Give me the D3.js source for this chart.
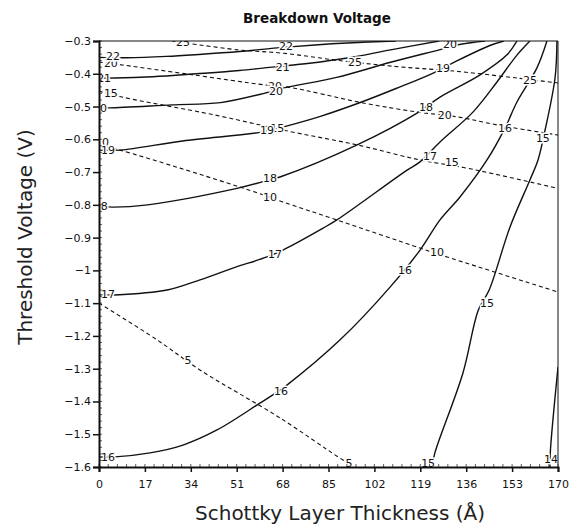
<!DOCTYPE html>
<html>
<head>
<meta charset="utf-8">
<script src="https://cdn.jsdelivr.net/npm/d3@7"></script>
<style>
body { margin: 0; background: #fff; }
</style>
</head>
<body>
<div id="vis-svg"></div>
<script>
var w = 577;
var h = 529;

// axis ticks
var xTicks = [0, 17, 34, 51, 68, 85, 102, 119, 136, 153, 170];
var yTicks = [-1.6, -1.5, -1.4, -1.3, -1.2, -1.1, -1, -0.9, -0.8, -0.7, -0.6, -0.5, -0.4, -0.3];

// breakdown voltage contours (solid), [thickness, threshold]
var bvLevels = [22, 21, 20, 19, 18, 17, 16, 15, 14];
var bvLines = [
  [[0,-0.350],[10,-0.351],[25,-0.347],[37,-0.341],[52,-0.332],[66,-0.321],[80,-0.312],[92,-0.306],[110,-0.300]],
  [[0,-0.413],[6,-0.413],[20,-0.409],[36,-0.400],[52,-0.390],[65,-0.379],[78,-0.368],[92,-0.352],[108,-0.327],[126,-0.300]],
  [[0,-0.504],[4,-0.504],[27,-0.495],[45,-0.488],[61.5,-0.459],[68,-0.444],[88,-0.411],[108,-0.365],[126,-0.327],[134,-0.310],[143,-0.300]],
  [[0,-0.633],[7.8,-0.633],[31,-0.605],[60.4,-0.578],[67,-0.565],[82,-0.530],[97,-0.487],[110,-0.445],[124,-0.397],[132,-0.363],[145,-0.313],[150,-0.300]],
  [[0,-0.804],[5.2,-0.807],[18,-0.800],[51.5,-0.749],[60.4,-0.730],[67,-0.715],[95.6,-0.617],[117.8,-0.520],[126.3,-0.471],[141,-0.404],[151,-0.343],[154.8,-0.300]],
  [[0,-1.075],[5.9,-1.075],[25.2,-1.060],[37.4,-1.029],[49.6,-0.993],[62.2,-0.959],[68.1,-0.938],[83,-0.871],[88.1,-0.846],[114.1,-0.694],[118.9,-0.669],[126.3,-0.608],[138.5,-0.517],[147.4,-0.425],[154.8,-0.343],[159.6,-0.300]],
  [[0,-1.569],[5.9,-1.569],[18.9,-1.557],[31.1,-1.533],[43.7,-1.487],[59.6,-1.405],[64.4,-1.380],[69.6,-1.350],[89.3,-1.212],[107.8,-1.051],[118.9,-0.938],[126.3,-0.846],[133.7,-0.776],[143.7,-0.663],[150.4,-0.565],[154.8,-0.486],[162.2,-0.382],[165.9,-0.300]],
  [[123.3,-1.600],[124.4,-1.557],[134.8,-1.313],[140.5,-1.121],[144.5,-1.060],[152.2,-0.868],[159.6,-0.724],[162.6,-0.663],[165,-0.580],[168.9,-0.413],[169.6,-0.300]],
  [[167,-1.600],[167.2,-1.548],[170,-1.295]]
];
var bvLabels = [
  [[5.2,-0.347],[69.3,-0.315]],
  [[1.9,-0.413],[68.1,-0.378]],
  [[0.4,-0.504],[65.6,-0.453],[130,-0.309]],
  [[3.3,-0.633],[62.2,-0.571],[127.4,-0.382]],
  [[0.7,-0.804],[63.3,-0.718],[121.1,-0.501]],
  [[3.3,-1.072],[65.2,-0.950],[122.6,-0.651]],
  [[3.3,-1.569],[67.4,-1.368],[113.3,-0.999],[150.4,-0.565]],
  [[121.9,-1.588],[143.7,-1.100],[164.4,-0.596]],
  [[167.4,-1.576]]
];

// second set of contours (dashed)
var dashLevels = [25, 20, 15, 10, 5];
var dashLines = [
  [[27,-0.300],[51.5,-0.327],[67.8,-0.337],[90.4,-0.361],[111.5,-0.379],[131.9,-0.392],[154.8,-0.413],[170,-0.428]],
  [[0,-0.364],[8.5,-0.373],[33.7,-0.402],[61.5,-0.434],[69.6,-0.440],[97.8,-0.489],[118.1,-0.517],[133,-0.532],[147.4,-0.556],[170,-0.587]],
  [[0,-0.453],[8.5,-0.471],[43,-0.526],[70,-0.575],[95.6,-0.617],[118.9,-0.663],[136.3,-0.688],[169.6,-0.749]],
  [[0,-0.617],[7.8,-0.633],[30,-0.688],[58.9,-0.764],[68.1,-0.791],[88.1,-0.846],[118.9,-0.932],[128.9,-0.959],[170,-1.066]],
  [[0,-1.100],[21.5,-1.212],[37.4,-1.304],[67,-1.450],[88.5,-1.569],[92.6,-1.590]]
];
var dashLabels = [
  [[31.1,-0.302],[94.8,-0.364],[159.6,-0.419]],
  [[4.4,-0.367],[65.2,-0.437],[128.1,-0.526]],
  [[4.4,-0.459],[66,-0.565],[130.7,-0.670]],
  [[1.1,-0.608],[63.3,-0.776],[125.2,-0.944]],
  [[33,-1.273],[92.6,-1.588]]
];

var canvas = d3.select("#vis-svg").append("svg")
    .attr("width", w)
    .attr("height", h)
    .style("font-family", "'DejaVu Sans', sans-serif");

var x = d3.scaleLinear().domain([0, 170]).range([99, 558]);
var y = d3.scaleLinear().domain([-1.6, -0.3]).range([467, 41]);

canvas.append("defs").append("clipPath").attr("id", "plotclip")
  .append("rect")
    .attr("x", x(0)).attr("y", y(-0.3))
    .attr("width", x(170) - x(0)).attr("height", y(-1.6) - y(-0.3));

var line = d3.line()
    .x(d => x(d[0]))
    .y(d => y(d[1]))
    .curve(d3.curveCatmullRom.alpha(0.5));

var plot = canvas.append("g").attr("clip-path", "url(#plotclip)");

// dashed contours
plot.selectAll(".dash")
    .data(dashLines)
    .enter().append("path")
    .attr("class", "dash")
    .attr("d", line)
    .attr("fill", "none")
    .attr("stroke", "#111")
    .attr("stroke-width", 1.1)
    .attr("stroke-dasharray", "4,3");

// solid contours
plot.selectAll(".solid")
    .data(bvLines)
    .enter().append("path")
    .attr("class", "solid")
    .attr("d", line)
    .attr("fill", "none")
    .attr("stroke", "#111")
    .attr("stroke-width", 1.4);

// contour labels, white halo breaks the line like the original
function addLabels(levels, labels) {
  var flat = [];
  levels.forEach(function(lv, i) {
    labels[i].forEach(function(p) { flat.push({v: lv, p: p}); });
  });
  plot.selectAll(null)
      .data(flat)
      .enter().append("text")
      .attr("x", d => x(d.p[0]))
      .attr("y", d => y(d.p[1]))
      .attr("dy", "0.36em")
      .attr("text-anchor", "middle")
      .attr("font-size", 11)
      .attr("fill", "#111")
      .attr("stroke", "#fff")
      .attr("stroke-width", 3)
      .attr("paint-order", "stroke")
      .text(d => d.v);
}
addLabels(dashLevels, dashLabels);
addLabels(bvLevels, bvLabels);

// frame
canvas.append("line")
    .attr("x1", x(0)).attr("x2", x(170))
    .attr("y1", y(-0.3)).attr("y2", y(-0.3))
    .attr("stroke", "#111").attr("stroke-width", 1);
canvas.append("line")
    .attr("x1", x(170)).attr("x2", x(170))
    .attr("y1", y(-0.3)).attr("y2", y(-1.6))
    .attr("stroke", "#111").attr("stroke-width", 1);

// minor ticks inside the axes
var xMinor = d3.range(0, 171, 3.4);
var yMinor = d3.range(-1.6, -0.29, 0.02);
canvas.selectAll(".xminor").data(xMinor).enter().append("line")
    .attr("x1", d => x(d)).attr("x2", d => x(d))
    .attr("y1", y(-1.6)).attr("y2", y(-1.6) - 3)
    .attr("stroke", "#333").attr("stroke-width", 0.8);
canvas.selectAll(".yminor").data(yMinor).enter().append("line")
    .attr("x1", x(0)).attr("x2", x(0) + 3)
    .attr("y1", d => y(d)).attr("y2", d => y(d))
    .attr("stroke", "#333").attr("stroke-width", 0.8);

var fmt = d => String(d).replace("-", "\u2212");

var xAxis = canvas.append("g")
    .attr("transform", "translate(0," + y(-1.6) + ")")
    .call(d3.axisBottom(x).tickValues(xTicks).tickSize(5).tickPadding(8));
var yAxis = canvas.append("g")
    .attr("transform", "translate(" + x(0) + ",0)")
    .call(d3.axisLeft(y).tickValues(yTicks).tickFormat(fmt).tickSize(6).tickPadding(2));

[xAxis, yAxis].forEach(function(a) {
  a.select(".domain").attr("stroke", "#111").attr("stroke-width", 2);
  a.selectAll(".tick line").attr("stroke", "#111").attr("stroke-width", 1.5);
  a.selectAll(".tick text").attr("font-size", 11).attr("fill", "#111")
    .attr("font-family", "'DejaVu Sans', sans-serif");
});

// titles
canvas.append("text")
    .attr("x", 317).attr("y", 23)
    .attr("text-anchor", "middle")
    .attr("font-size", 13.5)
    .attr("font-weight", "bold")
    .attr("fill", "#111")
    .text("Breakdown Voltage");

canvas.append("text")
    .attr("x", 340).attr("y", 520)
    .attr("text-anchor", "middle")
    .attr("font-size", 20)
    .attr("fill", "#222")
    .text("Schottky Layer Thickness (\u00C5)");

canvas.append("text")
    .attr("transform", "translate(32,237) rotate(-90)")
    .attr("text-anchor", "middle")
    .attr("font-size", 20)
    .attr("fill", "#222")
    .text("Threshold Voltage (V)");
</script>
</body>
</html>
